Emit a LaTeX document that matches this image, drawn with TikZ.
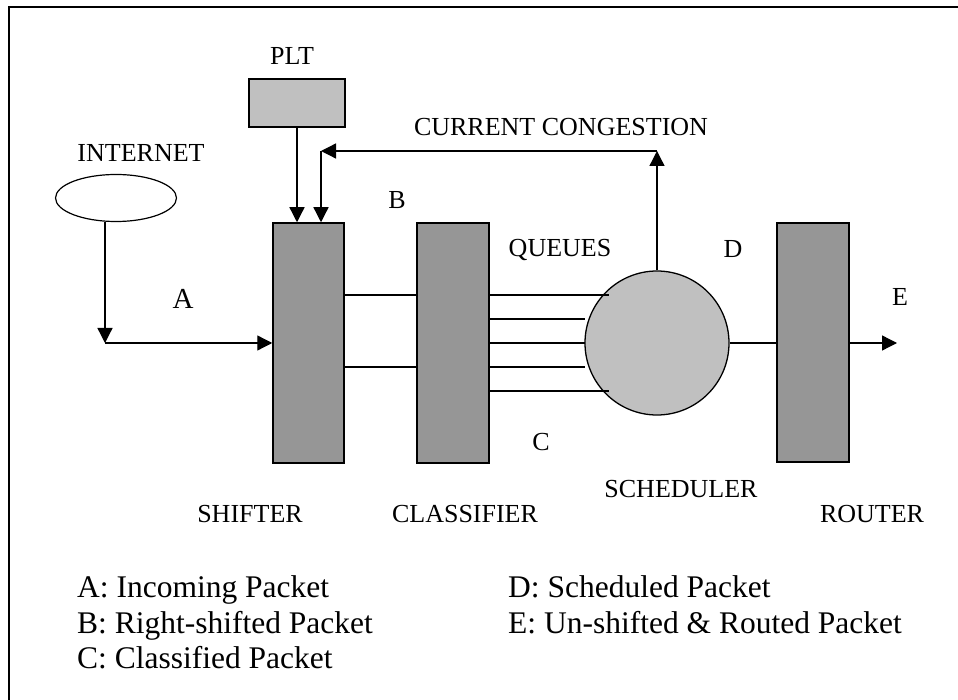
\documentclass[tikz,border=0pt]{standalone}
\usepackage{fontspec}
\setmainfont{Liberation Serif}
\usetikzlibrary{arrows.meta,shapes.geometric}
\begin{document}
\begin{tikzpicture}[x=1pt,y=-1pt,
  lbl/.style={inner sep=0pt,anchor=base,font=\fontsize{26}{30}\selectfont},
  biglbl/.style={inner sep=0pt,anchor=base,font=\fontsize{29}{33}\selectfont},
  legend/.style={inner sep=0pt,anchor=base west,font=\fontsize{31.5}{36}\selectfont},
  block/.style={draw,line width=1.5pt,fill=blockgray,inner sep=0pt},
  conn/.style={line width=1.3pt},
  arr/.style={conn,-{Triangle[length=15pt,width=15pt]}}]
\definecolor{blockgray}{HTML}{969696}
\definecolor{lightgray}{HTML}{C0C0C0}
\useasboundingbox (0,0) rectangle (958,700);

% frame
\draw[line width=2pt] (9,700) -- (9,7) -- (958,7);

% blocks
\node[draw,line width=1.2pt,ellipse,minimum width=121pt,minimum height=47pt,inner sep=0pt] (internet) at (116,198) {};
\node[block,fill=lightgray,minimum width=96pt,minimum height=48pt] (plt) at (297,103) {};
\node[block,minimum width=71pt,minimum height=240pt] (shifter) at (308.5,343) {};
\node[block,minimum width=72pt,minimum height=240pt] (classifier) at (453,343) {};
\node[draw,line width=1.3pt,circle,fill=lightgray,minimum size=144pt,inner sep=0pt] (scheduler) at (657,343) {};
\node[block,minimum width=72pt,minimum height=239pt] (router) at (813,342.5) {};

% named points on the connectors
\coordinate (inA) at (105,343);
\coordinate (cgUp) at (657,151);
\coordinate (cgLeft) at (321,151);
\coordinate (outE) at (897,343);

% incoming path
\draw[arr] (inA |- internet.south) -- (inA);
\draw[arr] (inA) -- (inA -| shifter.west);

% PLT into shifter
\draw[arr] (plt.south) -- (plt.south |- shifter.north);

% congestion feedback
\draw[arr] (scheduler.north) -- (cgUp);
\draw[arr] (cgUp) -- (cgLeft);
\draw[arr] (cgLeft) -- (cgLeft |- shifter.north);

% shifter to classifier
\draw[conn] (shifter.east |- 0,295) -- (classifier.west |- 0,295);
\draw[conn] (shifter.east |- 0,367) -- (classifier.west |- 0,367);

% queues
\draw[conn] (classifier.east |- 0,295) -- (609,295);
\draw[conn] (classifier.east |- 0,319) -- (585,319);
\draw[conn] (classifier.east |- 0,343) -- (585,343);
\draw[conn] (classifier.east |- 0,367) -- (585,367);
\draw[conn] (classifier.east |- 0,391) -- (609,391);

% scheduler to router and out
\draw[conn] (scheduler.east) -- (router.west |- scheduler.east);
\draw[arr] (router.east |- outE) -- (outE);

% labels
\node[lbl] (lplt) at (292,65) {PLT};
\node[lbl] (linternet) at (141,162) {INTERNET};
\node[lbl] (lcong) at (561,136) {CURRENT CONGESTION};
\node[biglbl] (la) at (183,309) {A};
\node[lbl] (lb) at (397,209) {B};
\node[lbl] (lqueues) at (560,257) {QUEUES};
\node[lbl] (ld) at (733,258) {D};
\node[lbl] (le) at (900,306) {E};
\node[lbl] (lc) at (541,450) {C};
\node[lbl] (lsched) at (681,497) {SCHEDULER};
\node[lbl] (lshifter) at (250,522) {SHIFTER};
\node[lbl] (lclass) at (465,522) {CLASSIFIER};
\node[lbl] (lrouter) at (872,522) {ROUTER};

% legend
\node[legend] (ka) at (77,597) {A: Incoming Packet};
\node[legend] (kb) at (77,633) {B: Right-shifted Packet};
\node[legend] (kc) at (77,668) {C: Classified Packet};
\node[legend] (kd) at (508,597) {D: Scheduled Packet};
\node[legend] (ke) at (508,633) {E: Un-shifted \& Routed Packet};
\end{tikzpicture}
\end{document}
